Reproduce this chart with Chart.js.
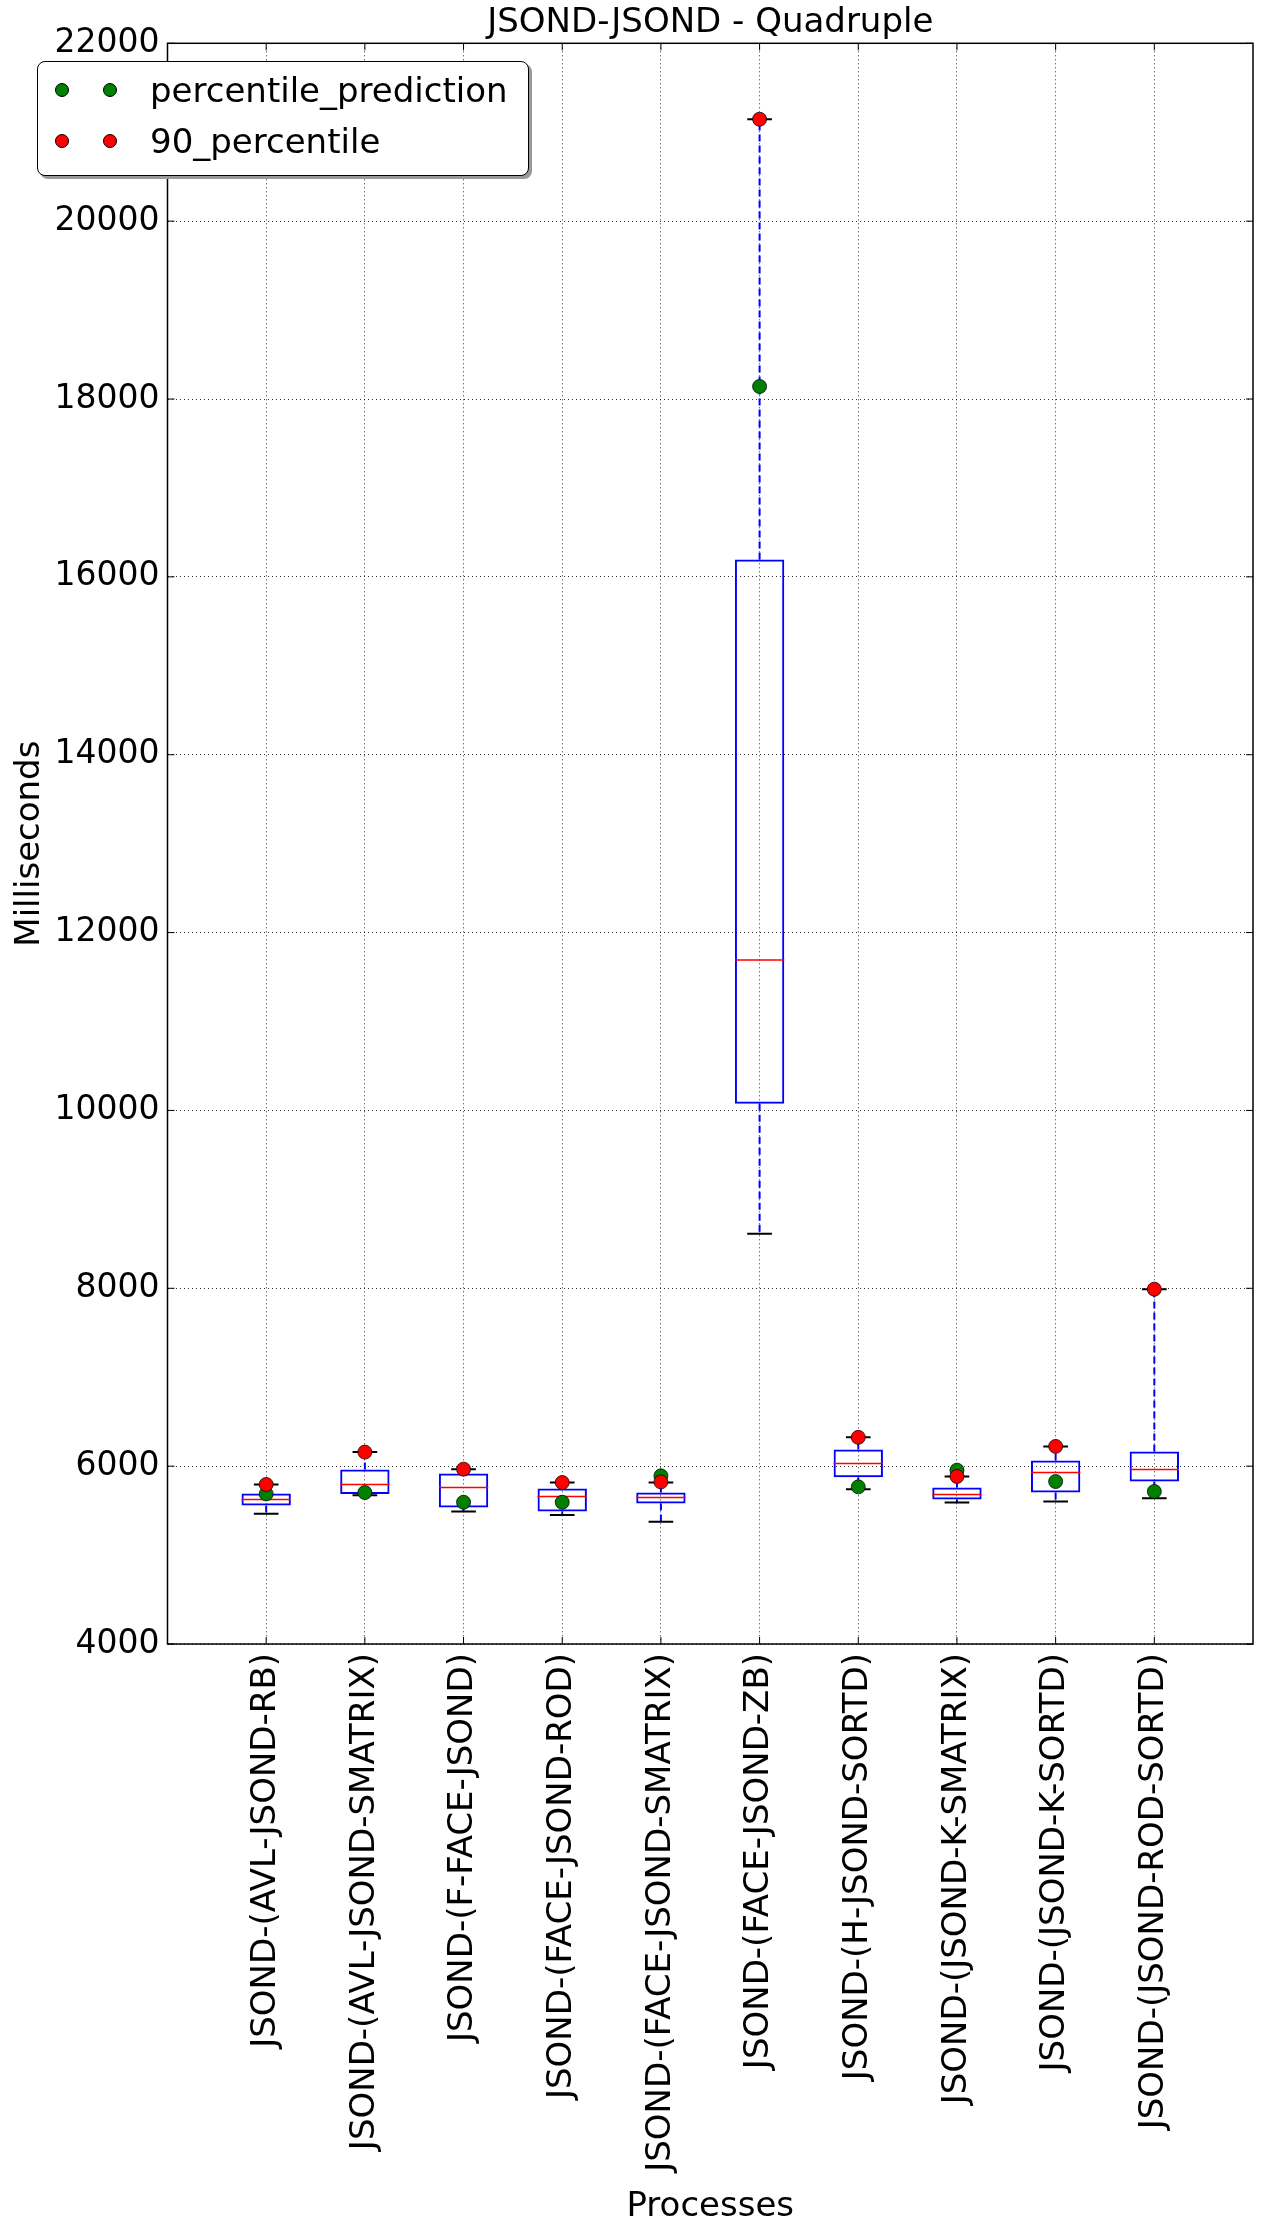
<!DOCTYPE html>
<html>
<head>
<meta charset="utf-8">
<title>JSOND-JSOND - Quadruple</title>
<script src="https://cdn.jsdelivr.net/npm/chart.js@4.4.1/dist/chart.umd.min.js"></script>
<style>
  html, body { margin: 0; padding: 0; background: #fff; }
  #wrap { position: relative; width: 1261px; height: 2234px; }
  #chart { display: block; }
  #legend {
    position: absolute; left: 37px; top: 61px; width: 490px; height: 113px;
    border: 1.5px solid #000; border-radius: 8px; background: #fff;
    box-shadow: 3px 3px 0 #999;
    font-family: 'DejaVu Sans', sans-serif; font-size: 34px; color: #000;
  }
  .row { position: absolute; left: 0; right: 0; height: 40px; }
  .dot { position: absolute; top: 13px; width: 14px; height: 14px; border-radius: 50%;
         border: 0.75px solid #000; box-sizing: border-box; }
  .lbl { position: absolute; left: 112px; top: 0; line-height: 40px; white-space: nowrap; }
</style>
</head>
<body>
<div id="wrap">
  <canvas id="chart" width="1261" height="2234"></canvas>
  <div id="legend"></div>
</div>
<script>
const categories = [
  'JSOND-(AVL-JSOND-RB)',
  'JSOND-(AVL-JSOND-SMATRIX)',
  'JSOND-(F-FACE-JSOND)',
  'JSOND-(FACE-JSOND-ROD)',
  'JSOND-(FACE-JSOND-SMATRIX)',
  'JSOND-(FACE-JSOND-ZB)',
  'JSOND-(H-JSOND-SORTD)',
  'JSOND-(JSOND-K-SMATRIX)',
  'JSOND-(JSOND-K-SORTD)',
  'JSOND-(JSOND-ROD-SORTD)'
];
const positions = categories.map((c, i) => i + 1);

// box plot stats (ms)
const whiskerLow  = [5466, 5673, 5489, 5451, 5376,  8612, 5741, 5591, 5602, 5639];
const q1          = [5557, 5688, 5534, 5489, 5579, 10075, 5876, 5624, 5703, 5827];
const median      = [5624, 5794, 5760, 5658, 5647, 11692, 6030, 5681, 5929, 5963];
const q3          = [5692, 5963, 5918, 5748, 5703, 16196, 6188, 5760, 6064, 6166];
const whiskerHigh = [5794, 6158, 5966, 5816, 5816, 21146, 6324, 5884, 6222, 7990];

// markers
const percentilePrediction = [5688, 5703, 5594, 5594, 5891, 18141, 5767, 5955, 5827, 5715];
const percentile90         = [5794, 6158, 5966, 5816, 5823, 21146, 6324, 5884, 6222, 7990];

const yTicks = [4000, 6000, 8000, 10000, 12000, 14000, 16000, 18000, 20000, 22000];

const FONT = 'DejaVu Sans';
Chart.defaults.color = '#000';
Chart.defaults.font.family = FONT;

// width in data units -> pixel half length for 'line' point style
function halfLen(units) {
  return c => {
    const s = c.chart.scales.x;
    return Math.abs(s.getPixelForValue(units) - s.getPixelForValue(0)) / 2;
  };
}

const boxData = positions.map((p, i) => ({x: p, y: [q1[i], q3[i]]}));
const medianData = positions.map((p, i) => ({x: p, y: median[i]}));
const capData = positions.flatMap((p, i) => [{x: p, y: whiskerLow[i]}, {x: p, y: whiskerHigh[i]}]);
const whiskerData = positions.flatMap((p, i) => [
  {x: p, y: q3[i]}, {x: p, y: whiskerHigh[i]}, {x: p, y: null},
  {x: p, y: q1[i]}, {x: p, y: whiskerLow[i]}, {x: p, y: null}
]);

const series = [
  {label: 'percentile_prediction', values: percentilePrediction, color: '#008000'},
  {label: '90_percentile', values: percentile90, color: '#ff0000'}
];

const framePlugin = {
  id: 'frame',
  afterDatasetsDraw(chart) {
    const {ctx, chartArea: a, scales: {x, y}} = chart;
    ctx.save();
    ctx.strokeStyle = '#000';
    ctx.lineWidth = 1;
    ctx.beginPath();
    x.ticks.forEach(t => {
      const px = x.getPixelForValue(t.value);
      ctx.moveTo(px, a.bottom); ctx.lineTo(px, a.bottom - 7);
      ctx.moveTo(px, a.top); ctx.lineTo(px, a.top + 7);
    });
    y.ticks.forEach(t => {
      const py = y.getPixelForValue(t.value);
      ctx.moveTo(a.left, py); ctx.lineTo(a.left + 7, py);
      ctx.moveTo(a.right, py); ctx.lineTo(a.right - 7, py);
    });
    ctx.stroke();
    ctx.lineWidth = 1.5;
    ctx.strokeRect(a.left, a.top, a.right - a.left, a.bottom - a.top);
    ctx.restore();
  }
};

const chart = new Chart(document.getElementById('chart'), {
  type: 'bar',
  data: {
    datasets: [
      {
        type: 'scatter', label: series[1].label, data: positions.map((p, i) => ({x: p, y: series[1].values[i]})),
        pointStyle: 'circle', pointRadius: 7, backgroundColor: series[1].color,
        borderColor: '#000', borderWidth: 0.75
      },
      {
        type: 'scatter', label: series[0].label, data: positions.map((p, i) => ({x: p, y: series[0].values[i]})),
        pointStyle: 'circle', pointRadius: 7, backgroundColor: series[0].color,
        borderColor: '#000', borderWidth: 0.75
      },
      {
        type: 'scatter', label: 'caps', data: capData,
        pointStyle: 'line', pointRadius: halfLen(0.25), borderColor: '#000', borderWidth: 2
      },
      {
        type: 'scatter', label: 'median', data: medianData,
        pointStyle: 'line', pointRadius: halfLen(0.5), borderColor: '#ff0000', borderWidth: 1.5
      },
      {
        type: 'bar', label: 'box', data: boxData,
        backgroundColor: 'rgba(0,0,0,0)', borderColor: '#0000ff', borderWidth: 2,
        borderSkipped: false, barPercentage: 0.5, categoryPercentage: 1
      },
      {
        type: 'line', label: 'whiskers', data: whiskerData,
        borderColor: '#0000ff', borderWidth: 2, borderDash: [7, 4],
        pointRadius: 0, spanGaps: false, fill: false
      }
    ]
  },
  options: {
    responsive: false,
    devicePixelRatio: 1,
    animation: false,
    events: [],
    layout: {padding: {left: 0, right: 8, top: 0, bottom: 0}},
    plugins: {
      legend: {display: false},
      tooltip: {enabled: false},
      title: {
        display: true, text: 'JSOND-JSOND - Quadruple', fullSize: false,
        font: {size: 34, weight: 'normal'}, padding: {top: 2.5, bottom: 0}
      }
    },
    scales: {
      x: {
        type: 'linear', min: 0, max: 11, offset: false,
        afterBuildTicks: s => { s.ticks = positions.map(v => ({value: v})); },
        afterFit: s => { s.height = 590; },
        ticks: {
          autoSkip: false, minRotation: 90, maxRotation: 90, padding: 9,
          font: {size: 34},
          callback: v => categories[v - 1]
        },
        grid: {offset: false, color: 'rgba(0,0,0,0.8)', lineWidth: 1, drawTicks: false},
        border: {display: false, dash: [1, 3]},
        title: {display: true, text: 'Processes', font: {size: 34}, padding: {top: 0, bottom: 6}}
      },
      y: {
        min: 4000, max: 22000,
        afterBuildTicks: s => { s.ticks = yTicks.map(v => ({value: v})); },
        afterFit: s => { s.width = 167.5; },
        ticks: {padding: 8, font: {size: 33}, callback: v => String(v)},
        grid: {color: 'rgba(0,0,0,0.8)', lineWidth: 1, drawTicks: false},
        border: {display: false, dash: [1, 3]},
        title: {display: true, text: 'Milliseconds', font: {size: 34}, padding: {top: 10, bottom: 0}}
      }
    }
  },
  plugins: [framePlugin]
});

// legend drawn as html, from the series list
const legendEl = document.getElementById('legend');
series.forEach((s, r) => {
  const row = document.createElement('div');
  row.className = 'row';
  row.style.top = (8 + r * 51) + 'px';
  [16.5, 64.5].forEach(left => {
    const d = document.createElement('span');
    d.className = 'dot';
    d.style.left = left + 'px';
    d.style.background = s.color;
    row.appendChild(d);
  });
  const t = document.createElement('span');
  t.className = 'lbl';
  t.textContent = s.label;
  row.appendChild(t);
  legendEl.appendChild(row);
});
</script>
</body>
</html>
